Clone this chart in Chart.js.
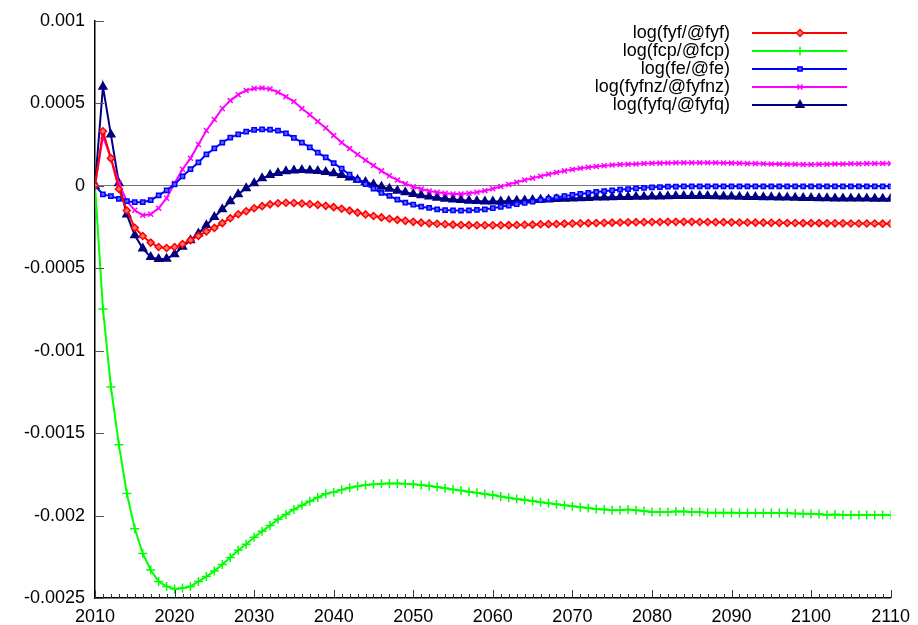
<!DOCTYPE html>
<html>
<head>
<meta charset="utf-8">
<script src="https://cdn.jsdelivr.net/npm/chart.js@4.4.1/dist/chart.umd.min.js"></script>
<style>
  html, body { margin: 0; padding: 0; background: #fff; }
  #wrap { width: 918px; height: 625px; }
</style>
</head>
<body>
<div id="wrap"><canvas id="simChart" width="918" height="625"></canvas></div>
<script>
const years = [
    2010, 2011, 2012, 2013, 2014, 2015, 2016, 2017, 2018, 2019,
    2020, 2021, 2022, 2023, 2024, 2025, 2026, 2027, 2028, 2029,
    2030, 2031, 2032, 2033, 2034, 2035, 2036, 2037, 2038, 2039,
    2040, 2041, 2042, 2043, 2044, 2045, 2046, 2047, 2048, 2049,
    2050, 2051, 2052, 2053, 2054, 2055, 2056, 2057, 2058, 2059,
    2060, 2061, 2062, 2063, 2064, 2065, 2066, 2067, 2068, 2069,
    2070, 2071, 2072, 2073, 2074, 2075, 2076, 2077, 2078, 2079,
    2080, 2081, 2082, 2083, 2084, 2085, 2086, 2087, 2088, 2089,
    2090, 2091, 2092, 2093, 2094, 2095, 2096, 2097, 2098, 2099,
    2100, 2101, 2102, 2103, 2104, 2105, 2106, 2107, 2108, 2109,
    2110
];

const xTicks = [2010, 2020, 2030, 2040, 2050, 2060, 2070, 2080, 2090, 2100, 2110];
const yTicks = [0.001, 0.0005, 0, -0.0005, -0.001, -0.0015, -0.002, -0.0025];

// log(fyf/@fyf)
const fyf = [
    0, 0.00033, 0.000166, -0.00002, -0.00015, -0.000255, -0.000305, -0.000345, -0.000372, -0.000378,
    -0.000372, -0.000354, -0.00033, -0.000304, -0.000278, -0.000256, -0.000227, -0.000197, -0.000173, -0.000155,
    -0.000137, -0.000124, -0.000113, -0.000106, -0.000103, -0.000105, -0.000108, -0.000112, -0.000116, -0.000122,
    -0.00013, -0.00014, -0.000151, -0.000163, -0.000174, -0.000184, -0.000192, -0.0002, -0.000207, -0.000213,
    -0.000219, -0.000224, -0.000228, -0.000231, -0.000234, -0.000236, -0.000238, -0.000239, -0.00024, -0.00024,
    -0.00024, -0.00024, -0.000239, -0.000238, -0.000237, -0.000236, -0.000234, -0.000233, -0.000232, -0.00023,
    -0.000229, -0.000228, -0.000227, -0.000226, -0.000225, -0.000224, -0.000223, -0.000222, -0.000221, -0.000221,
    -0.00022, -0.00022, -0.000219, -0.000219, -0.000219, -0.000219, -0.00022, -0.00022, -0.000221, -0.000221,
    -0.000222, -0.000223, -0.000223, -0.000224, -0.000224, -0.000225, -0.000225, -0.000226, -0.000226, -0.000227,
    -0.000227, -0.000227, -0.000228, -0.000228, -0.000228, -0.000229, -0.000229, -0.000229, -0.000229, -0.00023,
    -0.00023
];

// log(fcp/@fcp)
const fcp = [
    0, -0.000747, -0.00122, -0.00157, -0.001866, -0.00208, -0.00223, -0.00233, -0.0024, -0.00243,
    -0.002445, -0.00244, -0.00243, -0.0024, -0.00237, -0.002337, -0.002297, -0.002254, -0.00221, -0.002174,
    -0.002132, -0.002096, -0.00206, -0.002023, -0.001993, -0.001963, -0.001938, -0.001914, -0.00189, -0.001868,
    -0.001858, -0.001843, -0.001831, -0.001823, -0.001815, -0.001811, -0.001807, -0.001805, -0.001805, -0.001807,
    -0.001811, -0.001815, -0.001821, -0.001827, -0.001834, -0.001842, -0.001848, -0.001856, -0.001862, -0.00187,
    -0.001876, -0.001884, -0.001892, -0.0019, -0.001906, -0.001912, -0.00192, -0.001926, -0.001932, -0.001938,
    -0.001944, -0.00195, -0.001955, -0.001961, -0.001964, -0.001968, -0.001966, -0.001964, -0.001968, -0.001972,
    -0.001979, -0.001979, -0.001979, -0.001975, -0.001975, -0.001979, -0.001979, -0.001983, -0.001983, -0.001983,
    -0.001983, -0.001985, -0.001985, -0.001985, -0.001985, -0.001985, -0.001985, -0.001985, -0.001987, -0.001989,
    -0.001991, -0.001991, -0.001996, -0.001993, -0.001996, -0.001996, -0.001996, -0.001996, -0.001996, -0.001996,
    -0.001996
];

// log(fe/@fe)
const fe = [
    0, -0.000053, -0.000063, -0.00008, -0.000094, -0.0001, -0.0001, -0.000088, -0.000058, -0.000028,
    0.000008, 0.000057, 0.0001, 0.000141, 0.00019, 0.000226, 0.000262, 0.000292, 0.000311, 0.000328,
    0.000338, 0.000341, 0.00034, 0.000334, 0.000318, 0.00029, 0.000262, 0.000232, 0.0002, 0.000172,
    0.000137, 0.000103, 0.000067, 0.000036, 0.00001, -0.000018, -0.000044, -0.000062, -0.000085, -0.000103,
    -0.000115, -0.000127, -0.000135, -0.000143, -0.000148, -0.00015, -0.000151, -0.00015, -0.000147, -0.000143,
    -0.000136, -0.000128, -0.00012, -0.000112, -0.000104, -0.000096, -0.000088, -0.00008, -0.000071, -0.000063,
    -0.000056, -0.00005, -0.000044, -0.000038, -0.000033, -0.000028, -0.000024, -0.00002, -0.000016, -0.000013,
    -0.00001, -0.000008, -0.000006, -0.000005, -0.000004, -0.000004, -0.000004, -0.000004, -0.000004, -0.000004,
    -0.000004, -0.000004, -0.000004, -0.000004, -0.000004, -0.000004, -0.000004, -0.000004, -0.000004, -0.000004,
    -0.000004, -0.000004, -0.000004, -0.000004, -0.000004, -0.000004, -0.000004, -0.000004, -0.000004, -0.000004,
    -0.000004
];

// log(fyfnz/@fyfnz)
const fyfnz = [
    0, 0.0003, 0.000166, 0.000015, -0.000094, -0.000149, -0.000179, -0.000173, -0.000136, -0.000076,
    0.000015, 0.0001, 0.000166, 0.00025, 0.000335, 0.000401, 0.000468, 0.000516, 0.000552, 0.000578,
    0.000589, 0.000593, 0.000587, 0.000567, 0.00054, 0.00051, 0.000468, 0.00043, 0.00039, 0.00035,
    0.000305, 0.000262, 0.000225, 0.000189, 0.000155, 0.000122, 0.00009, 0.00006, 0.000034, 0.000012,
    -0.000006, -0.00002, -0.000032, -0.00004, -0.000046, -0.00005, -0.00005, -0.000046, -0.00004, -0.00003,
    -0.000018, -0.000005, 0.000008, 0.000021, 0.000034, 0.000046, 0.000058, 0.00007, 0.00008, 0.00009,
    0.000099, 0.000106, 0.000112, 0.000117, 0.000121, 0.000125, 0.000128, 0.00013, 0.000132, 0.000134,
    0.000136, 0.000137, 0.000138, 0.000139, 0.000139, 0.000139, 0.000139, 0.000139, 0.000139, 0.000138,
    0.000137, 0.000136, 0.000135, 0.000134, 0.000133, 0.000132, 0.000131, 0.00013, 0.00013, 0.000129,
    0.000129, 0.00013, 0.00013, 0.000131, 0.000132, 0.000133, 0.000133, 0.000134, 0.000135, 0.000135,
    0.000135
];

// log(fyfq/@fyfq)
const fyfq = [
    0, 0.0006, 0.00031, 0.000015, -0.000175, -0.0003, -0.00038, -0.000433, -0.000445, -0.000443,
    -0.000415, -0.00037, -0.00033, -0.00029, -0.00024, -0.00019, -0.000143, -0.000094, -0.000052, -0.000015,
    0.000015, 0.000045, 0.000065, 0.000077, 0.000087, 0.000093, 0.000095, 0.000093, 0.000089, 0.000083,
    0.000075, 0.000065, 0.00005, 0.000036, 0.000022, 0.000008, -0.000006, -0.000018, -0.00003, -0.00004,
    -0.00005, -0.000058, -0.000066, -0.000073, -0.000079, -0.000083, -0.000087, -0.000091, -0.000093, -0.000095,
    -0.000095, -0.000095, -0.000093, -0.000091, -0.000089, -0.000087, -0.000085, -0.000083, -0.000081, -0.000079,
    -0.000077, -0.000076, -0.000074, -0.000072, -0.000071, -0.00007, -0.000069, -0.000068, -0.000067, -0.000067,
    -0.000066, -0.000065, -0.000064, -0.000063, -0.000063, -0.000062, -0.000062, -0.000063, -0.000064, -0.000065,
    -0.000066, -0.000067, -0.000068, -0.000069, -0.00007, -0.00007, -0.000071, -0.000072, -0.000073, -0.000074,
    -0.000075, -0.000076, -0.000076, -0.000077, -0.000077, -0.000078, -0.000078, -0.000078, -0.000079, -0.000079,
    -0.000079
];

const seriesNames = ["log(fyf/@fyf)", "log(fcp/@fcp)", "log(fe/@fe)", "log(fyfnz/@fyfnz)", "log(fyfq/@fyfq)"];
const seriesValues = [fyf, fcp, fe, fyfnz, fyfq];
const seriesColors = ["#ff0000", "#00ff00", "#0000ff", "#ff00ff", "#000080"];
const seriesFill = ["#ff7070", "#00ff00", "#6060ff", "#ff00ff", "#000080"];
const seriesMarkers = ["rectRot", "cross", "rect", "crossRot", "triangle"];
const markerSizes = [3.5, 4.5, 3, 3.5, 4.5];

const FONT = "Liberation Sans, Arial, Helvetica, sans-serif";

function pairs(vals) {
    return years.map((y, i) => ({ x: y, y: vals[i] }));
}

function fmt(v) {
    return String(Number(v.toFixed(5)));
}

// inward tick marks on both axes (gnuplot style)
const axisMarks = {
    id: "axisMarks",
    afterDraw(chart) {
        const { ctx, chartArea, scales } = chart;
        ctx.save();
        ctx.lineWidth = 1;
        ctx.strokeStyle = "#555";
        yTicks.forEach(v => {
            const py = Math.round(scales.y.getPixelForValue(v)) + 0.5;
            ctx.beginPath();
            ctx.moveTo(chartArea.left, py);
            ctx.lineTo(chartArea.left + 9, py);
            ctx.stroke();
        });
        ctx.strokeStyle = "#333";
        years.forEach(yr => {
            const px = Math.round(scales.x.getPixelForValue(yr)) + 0.5;
            const len = yr % 10 === 0 ? 8 : 4;
            ctx.beginPath();
            ctx.moveTo(px, chartArea.bottom);
            ctx.lineTo(px, chartArea.bottom - len);
            ctx.stroke();
        });
        ctx.restore();
    }
};

// key in the top right: label, then line sample with marker
const keyBox = {
    id: "keyBox",
    afterDraw(chart) {
        const ctx = chart.ctx;
        ctx.save();
        ctx.font = "18px " + FONT;
        ctx.textAlign = "right";
        ctx.textBaseline = "middle";
        chart.data.datasets.forEach((ds, i) => {
            const rowY = 33 + i * 18;
            ctx.fillStyle = "#000";
            ctx.fillText(ds.label, 730, rowY);
            ctx.strokeStyle = ds.borderColor;
            ctx.lineWidth = 2;
            ctx.beginPath();
            ctx.moveTo(752, rowY);
            ctx.lineTo(847, rowY);
            ctx.stroke();
            ctx.fillStyle = ds.pointBackgroundColor;
            ctx.strokeStyle = ds.borderColor;
            ctx.lineWidth = 1.5;
            Chart.helpers.drawPoint(ctx, {
                pointStyle: ds.pointStyle,
                radius: ds.pointRadius,
                borderWidth: 1.5,
                rotation: 0
            }, 800, rowY);
        });
        ctx.restore();
    }
};

const datasets = seriesNames.map((name, i) => ({
    label: name,
    data: pairs(seriesValues[i]),
    borderColor: seriesColors[i],
    backgroundColor: seriesFill[i],
    pointBackgroundColor: seriesFill[i],
    pointBorderColor: seriesColors[i],
    pointStyle: seriesMarkers[i],
    pointRadius: markerSizes[i],
    pointBorderWidth: 1.5,
    borderWidth: 2,
    tension: 0,
    fill: false
}));

new Chart(document.getElementById("simChart"), {
    type: "line",
    data: { datasets: datasets },
    options: {
        responsive: false,
        animation: false,
        layout: { padding: { top: 19, right: 27, bottom: 0, left: 0 } },
        plugins: {
            legend: { display: false },
            tooltip: { enabled: false }
        },
        scales: {
            x: {
                type: "linear",
                min: 2010,
                max: 2110,
                afterBuildTicks: scale => { scale.ticks = xTicks.map(v => ({ value: v })); },
                afterFit: scale => { scale.height = 27; },
                grid: { display: false, drawTicks: false },
                border: { display: true, color: "#000", width: 1.5 },
                ticks: {
                    color: "#000",
                    padding: 8,
                    maxRotation: 0,
                    font: { family: FONT, size: 18 },
                    callback: v => String(v)
                }
            },
            y: {
                min: -0.0025,
                max: 0.001,
                afterBuildTicks: scale => { scale.ticks = yTicks.map(v => ({ value: v })); },
                afterFit: scale => { scale.width = 95; },
                grid: {
                    display: true,
                    drawTicks: false,
                    lineWidth: 1,
                    color: c => (c.tick && c.tick.value === 0) ? "#777" : "rgba(0,0,0,0)"
                },
                border: { display: true, color: "#000", width: 1.5 },
                ticks: {
                    color: "#000",
                    padding: 10,
                    font: { family: FONT, size: 18 },
                    callback: v => fmt(v)
                }
            }
        }
    },
    plugins: [axisMarks, keyBox]
});
</script>
</body>
</html>
